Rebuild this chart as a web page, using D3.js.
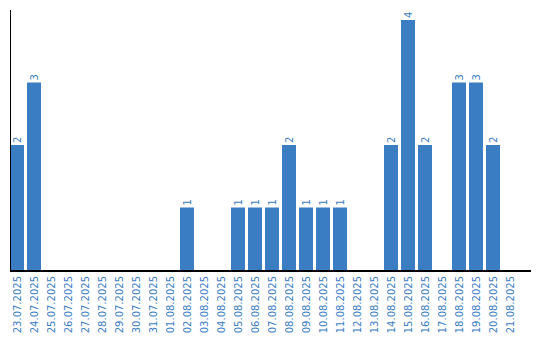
<!DOCTYPE html>
<html><head><meta charset="utf-8">
<script src="https://cdn.jsdelivr.net/npm/d3@7"></script>
<style>body{margin:0;background:#fff;}svg{display:block;font-family:"DejaVu Sans",sans-serif;}</style>
</head><body>
<svg id="c" width="540" height="340"></svg>
<script>
const dates = ["23.07.2025","24.07.2025","25.07.2025","26.07.2025","27.07.2025","28.07.2025","29.07.2025","30.07.2025","31.07.2025","01.08.2025","02.08.2025","03.08.2025","04.08.2025","05.08.2025","06.08.2025","07.08.2025","08.08.2025","09.08.2025","10.08.2025","11.08.2025","12.08.2025","13.08.2025","14.08.2025","15.08.2025","16.08.2025","17.08.2025","18.08.2025","19.08.2025","20.08.2025","21.08.2025"];
const counts = [2,3,0,0,0,0,0,0,0,0,1,0,0,1,1,1,2,1,1,1,0,0,2,4,2,0,3,3,2,0];

const color = "#3b7dc2";
const svg = d3.select("#c");
const x = d3.scaleBand().domain(dates).range([10, 517]).paddingInner(3/17).paddingOuter(0);
const y = d3.scaleLinear().domain([0, 4]).range([270, 20]);

const data = dates.map((d,i)=>({d, v:counts[i]}));

svg.selectAll("rect.bar").data(data.filter(d=>d.v>0)).join("rect")
  .attr("class","bar")
  .attr("x", d=>x(d.d)).attr("width", x.bandwidth())
  .attr("y", d=>y(d.v)).attr("height", d=>y(0)-y(d.v))
  .attr("fill", color);

svg.selectAll("text.val").data(data.filter(d=>d.v>0)).join("text")
  .attr("class","val")
  .attr("transform", d=>`translate(${x(d.d)+x.bandwidth()/2+3.5},${y(d.v)-2}) rotate(-90)`)
  .attr("text-anchor","start")
  .attr("font-size",10)
  .attr("fill", color)
  .text(d=>d.v);

// y axis line
svg.append("line").attr("x1",10.5).attr("x2",10.5).attr("y1",10).attr("y2",271).attr("stroke","#000").attr("stroke-width",1);

// x axis
const xa = svg.append("g").attr("transform","translate(0,270)")
  .call(d3.axisBottom(x).tickSize(0).tickPadding(0));
xa.select(".domain").remove();
xa.append("line").attr("x1",10).attr("x2",531).attr("y1",1).attr("y2",1).attr("stroke","#000").attr("stroke-width",2);
xa.selectAll(".tick text")
  .attr("font-family","DejaVu Sans, sans-serif")
  .attr("font-size",10)
  .attr("fill", color)
  .attr("text-anchor","end")
  .attr("transform","rotate(-90)")
  .attr("x",-6).attr("y",0).attr("dy","0.35em");
</script>
</body></html>
